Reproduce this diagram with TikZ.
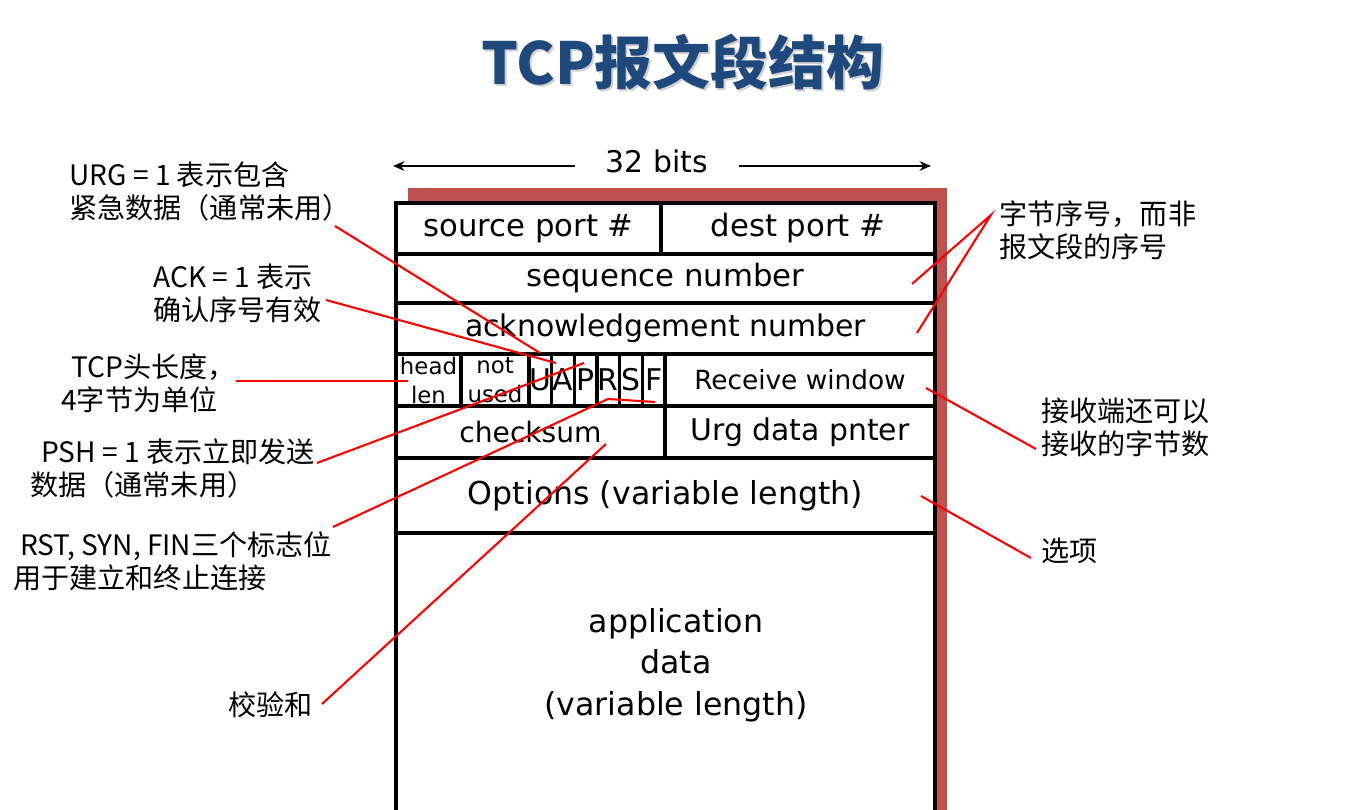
\documentclass[tikz,border=0pt]{standalone}
\usepackage{fontspec}
\setmainfont{DejaVu Sans}
\newfontfamily\cjk{Noto Sans CJK SC}
\usetikzlibrary{arrows.meta, positioning}
\definecolor{titleBlue}{RGB}{31,73,125}
\definecolor{shadowRed}{RGB}{192,80,77}
\definecolor{noteRed}{RGB}{255,0,0}
\newcommand{\px}{0.02cm}
\tikzset{
  fieldbox/.style={rectangle,draw=black,line width=1.9pt,fill=white,inner sep=0pt,outer sep=0pt,
                   anchor=north west,font=\fontsize{17.5}{21}\selectfont},
  flagbox/.style={fieldbox,minimum width=22.67*\px,minimum height=52*\px,font=\fontsize{17}{20}\selectfont},
  smallbox/.style={fieldbox,align=center,minimum height=52*\px,font=\fontsize{13}{16.5}\selectfont},
  datatext/.style={inner sep=0pt,align=center,font=\fontsize{18}{23.6}\selectfont},
  notetext/.style={inner sep=0pt,align=left,anchor=west,font=\cjk\fontsize{16}{18.8}\selectfont},
  titletext/.style={inner sep=0pt,font=\cjk\bfseries\fontsize{33}{38}\selectfont},
  noteline/.style={draw=noteRed,line width=1.2pt},
  bitsarr/.style={-{Stealth[length=6.5pt,width=5.5pt]},line width=1.1pt}
}

\begin{document}
\begin{tikzpicture}[x=0.02cm,y=-0.02cm]
  \useasboundingbox (0,0) rectangle (1347,810);
  \clip (0,0) rectangle (1347,810);

  %% Title
  \node[titletext,text=black!18] (titleshadow) at (685,64) {TCP报文段结构};
  \node[titletext,text=titleBlue] (title) at (683,62) {TCP报文段结构};

  %% 32 bits
  \node[inner xsep=31*\px,inner ysep=0pt,font=\fontsize{17}{20}\selectfont] (bits) at (657,161) {32 bits};
  \coordinate (bitsL) at (393,166);
  \coordinate (bitsR) at (931,166);
  \draw[bitsarr] (bits.west |- bitsL) -- (bitsL);
  \draw[bitsarr] (bits.east |- bitsR) -- (bitsR);

  %% Shadow behind the segment
  \fill[shadowRed] (408,188) rectangle (947,900);

  %% Header fields
  \node[fieldbox,minimum width=265*\px,minimum height=51*\px] (src) at (396,203) {source port \#};
  \node[fieldbox,minimum width=274*\px,minimum height=51*\px] (dst) at (src.north east) {dest port \#};
  \node[fieldbox,minimum width=539*\px,minimum height=49*\px] (seq) at (src.south west) {sequence number};
  \node[fieldbox,minimum width=539*\px,minimum height=51*\px,font=\fontsize{17}{20}\selectfont] (ack) at (seq.south west) {acknowledgement number};

  %% Flags row
  \node[smallbox,minimum width=65*\px] (hlen) at (ack.south west) {head\\len};
  \node[smallbox,minimum width=68*\px] (unused) at (hlen.north east) {not\\used};
  \node[flagbox] (flagU) at (unused.north east) {U};
  \node[flagbox] (flagA) at (flagU.north east) {A};
  \node[flagbox] (flagP) at (flagA.north east) {P};
  \node[flagbox] (flagR) at (flagP.north east) {R};
  \node[flagbox] (flagS) at (flagR.north east) {S};
  \node[flagbox] (flagF) at (flagS.north east) {F};
  \node[fieldbox,minimum width=270*\px,minimum height=52*\px,font=\fontsize{15}{18}\selectfont] (rwnd) at (flagF.north east) {Receive window};

  \node[fieldbox,minimum width=269*\px,minimum height=52*\px,font=\fontsize{16}{19}\selectfont] (csum) at (hlen.south west) {checksum};
  \node[fieldbox,minimum width=270*\px,minimum height=52*\px,font=\fontsize{17}{20}\selectfont] (urg) at (csum.north east) {Urg data pnter};
  \node[fieldbox,minimum width=539*\px,minimum height=75*\px,font=\fontsize{18}{21}\selectfont] (opts) at (csum.south west) {Options (variable length)};
  \node[fieldbox,minimum width=539*\px,minimum height=400*\px] (data) at (opts.south west) {};
  \node[datatext] (datatext) at (676,665) {application\\data\\(variable length)};

  %% Notes on the left
  \node[notetext] (urgnote) at (69,191.5) {URG = 1 表示包含\\紧急数据（通常未用）};
  \node[notetext] (acknote) at (153,293.5) {ACK = 1 表示\\确认序号有效};
  \node[notetext] (hlennote) at (61,383.5) {\hspace{0.2cm}TCP头长度，\\4字节为单位};
  \node[notetext] (pshnote) at (30,468) {\hspace{0.22cm}PSH = 1 表示立即发送\\数据（通常未用）};
  \node[notetext] (rstnote) at (13,561.5) {\hspace{0.14cm}RST, SYN, FIN三个标志位\\用于建立和终止连接};
  \node[notetext] (csumnote) at (228,705) {校验和};

  %% Notes on the right
  \node[notetext] (seqnote) at (999,230.5) {字节序号，而非\\报文段的序号};
  \node[notetext] (rwndnote) at (1041,427.5) {接收端还可以\\接收的字节数};
  \node[notetext] (optsnote) at (1041,551) {选项};

  %% Pointer ends
  \coordinate (urgA) at (335,226);   \coordinate (urgB) at (540,353);
  \coordinate (ackA) at (326,300);   \coordinate (ackB) at (556,363);
  \coordinate (hlenA) at (236,381);  \coordinate (hlenB) at (408,381);
  \coordinate (pshA) at (317,463);   \coordinate (pshB) at (584,363);
  \coordinate (rstA) at (333,527);   \coordinate (rstK) at (608,399);  \coordinate (rstB) at (655,402);
  \coordinate (csumA) at (322,704);  \coordinate (csumB) at (606,444);
  \coordinate (seqA) at (991,215);   \coordinate (seqB) at (912,284);  \coordinate (ackC) at (917,333);
  \coordinate (rwndA) at (926,388);  \coordinate (rwndB) at (1036,449);
  \coordinate (optsA) at (921,496);  \coordinate (optsB) at (1031,558);

  %% Red pointers
  \draw[noteline] (urgA) -- (urgB);
  \draw[noteline] (ackA) -- (ackB);
  \draw[noteline] (hlenA) -- (hlenB);
  \draw[noteline] (pshA) -- (pshB);
  \draw[noteline] (rstA) -- (rstK) -- (rstB);
  \draw[noteline] (csumA) -- (csumB);
  \draw[noteline] (seqB) -- (seqA) -- (ackC);
  \draw[noteline] (rwndA) -- (rwndB);
  \draw[noteline] (optsA) -- (optsB);
\end{tikzpicture}
\end{document}
